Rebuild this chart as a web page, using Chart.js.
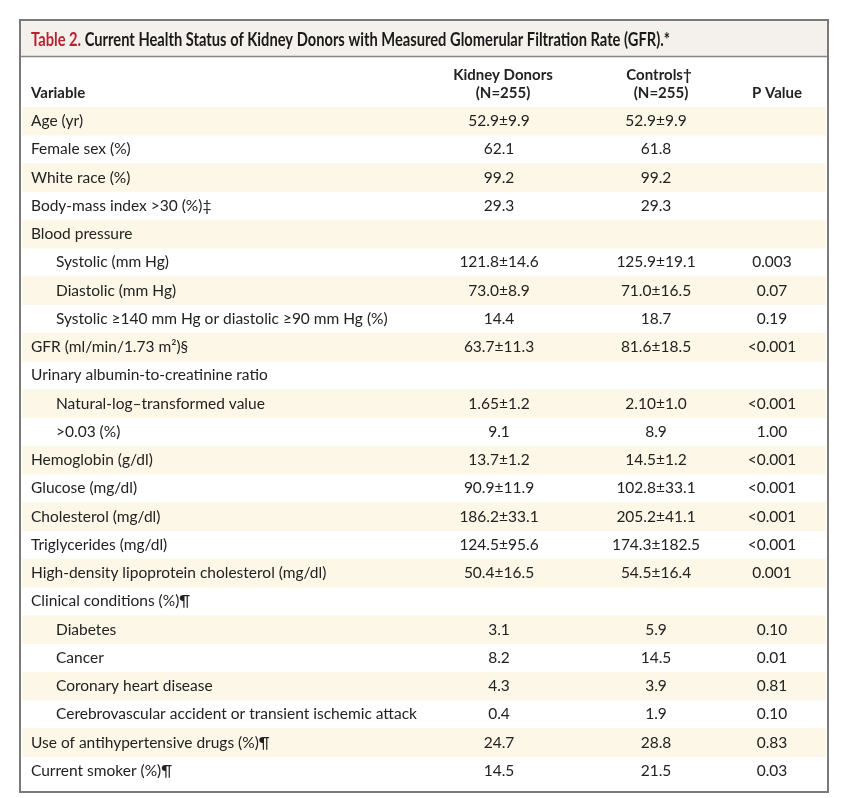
<!DOCTYPE html>
<html>
<head>
<meta charset="utf-8">
<script src="https://cdn.jsdelivr.net/npm/chart.js@4.4.1/dist/chart.umd.min.js"></script>
<style>
  html, body { margin: 0; padding: 0; background: #fff; }
  #wrap { width: 847px; height: 798px; position: relative; }
</style>
</head>
<body>
<div id="wrap"><canvas id="table2"></canvas></div>
<script>
// table content
const titleLead = 'Table 2.'
const titleText = ' Current Health Status of Kidney Donors with Measured Glomerular Filtration Rate (GFR).*'
const columnHeads = ['Kidney Donors', 'Controls\u2020', 'P Value']
const groupSizes = ['(N=255)', '(N=255)']

const variables = [
  'Age (yr)',
  'Female sex (%)',
  'White race (%)',
  'Body-mass index >30 (%)\u2021',
  'Blood pressure',
  'Systolic (mm Hg)',
  'Diastolic (mm Hg)',
  'Systolic \u2265140 mm Hg or diastolic \u226590 mm Hg (%)',
  'GFR (ml/min/1.73 m\u00b2)\u00a7',
  'Urinary albumin-to-creatinine ratio',
  'Natural-log\u2013transformed value',
  '>0.03 (%)',
  'Hemoglobin (g/dl)',
  'Glucose (mg/dl)',
  'Cholesterol (mg/dl)',
  'Triglycerides (mg/dl)',
  'High-density lipoprotein cholesterol (mg/dl)',
  'Clinical conditions (%)\u00b6',
  'Diabetes',
  'Cancer',
  'Coronary heart disease',
  'Cerebrovascular accident or transient ischemic attack',
  'Use of antihypertensive drugs (%)\u00b6',
  'Current smoker (%)\u00b6'
]
const subRow = [0,0,0,0,0,1,1,1,0,0,1,1,0,0,0,0,0,0,1,1,1,1,0,0]
const donors = ['52.9\u00b19.9','62.1','99.2','29.3','','121.8\u00b114.6','73.0\u00b18.9','14.4','63.7\u00b111.3','','1.65\u00b11.2','9.1','13.7\u00b11.2','90.9\u00b111.9','186.2\u00b133.1','124.5\u00b195.6','50.4\u00b116.5','','3.1','8.2','4.3','0.4','24.7','14.5']
const controls = ['52.9\u00b19.9','61.8','99.2','29.3','','125.9\u00b119.1','71.0\u00b116.5','18.7','81.6\u00b118.5','','2.10\u00b11.0','8.9','14.5\u00b11.2','102.8\u00b133.1','205.2\u00b141.1','174.3\u00b1182.5','54.5\u00b116.4','','5.9','14.5','3.9','1.9','28.8','21.5']
const pValues = ['','','','','','0.003','0.07','0.19','<0.001','','<0.001','1.00','<0.001','<0.001','<0.001','<0.001','0.001','','0.10','0.01','0.81','0.10','0.83','0.03']

// x scale runs in page units so the column centres read naturally
const X_MIN = 22, X_MAX = 826
const col = { label: 31, indent: 56, donors: 499, controls: 656, p: 772 }
const ink = '#222'
const bodyFont = '15.5px Lato'

const stripes = variables.map((v, i) => i % 2 === 0 ? [X_MIN, X_MAX] : null)

const tablePlugin = {
  id: 'tablePlugin',
  beforeDraw(chart) {
    const ctx = chart.ctx
    ctx.save()
    ctx.fillStyle = '#fff'
    ctx.fillRect(0, 0, chart.width, chart.height)
    // title band
    ctx.fillStyle = '#f4f0ec'
    ctx.fillRect(20, 20, 808, 36)
    ctx.restore()
  },
  afterDatasetsDraw(chart) {
    const ctx = chart.ctx
    const x = chart.scales.x
    const y = chart.scales.y
    ctx.save()
    ctx.textBaseline = 'middle'

    // title, squeezed to the condensed width of the original
    ctx.font = 'bold 18px Lato'
    const w1 = ctx.measureText(titleLead).width
    const w2 = ctx.measureText(titleText).width
    const sx = 639 / (w1 + w2)
    ctx.save()
    ctx.translate(31, 40)
    ctx.scale(sx, 1)
    ctx.textAlign = 'left'
    ctx.fillStyle = '#b8232f'
    ctx.fillText(titleLead, 0, 0)
    ctx.fillStyle = '#1a1a1a'
    ctx.fillText(titleText, w1, 0)
    ctx.restore()

    // column heads
    ctx.font = 'bold 15px Lato'
    ctx.fillStyle = ink
    ctx.textAlign = 'left'
    ctx.fillText('Variable', 31, 93)
    ctx.textAlign = 'center'
    ctx.fillText(columnHeads[0], 503, 75)
    ctx.fillText(groupSizes[0], 503, 93)
    ctx.fillText(columnHeads[1], 659, 75)
    ctx.fillText(groupSizes[1], 661, 93)
    ctx.fillText(columnHeads[2], 777, 93)

    // body rows
    ctx.font = bodyFont
    variables.forEach((v, i) => {
      const py = y.getPixelForValue(i)
      ctx.textAlign = 'left'
      ctx.fillText(v, subRow[i] ? col.indent : col.label, py)
      ctx.textAlign = 'center'
      ctx.fillText(donors[i], x.getPixelForValue(col.donors), py)
      ctx.fillText(controls[i], x.getPixelForValue(col.controls), py)
      ctx.fillText(pValues[i], x.getPixelForValue(col.p), py)
    })
    ctx.restore()
  },
  afterDraw(chart) {
    const ctx = chart.ctx
    ctx.save()
    ctx.strokeStyle = '#858585'
    ctx.lineWidth = 1.5
    ctx.beginPath()
    ctx.moveTo(20, 56.5)
    ctx.lineTo(828, 56.5)
    ctx.stroke()
    ctx.strokeStyle = '#7a7a7a'
    ctx.lineWidth = 2
    ctx.strokeRect(20, 20, 808, 772)
    ctx.restore()
  }
}

const config = {
  type: 'bar',
  data: {
    labels: variables,
    datasets: [
      {
        label: 'row shading',
        data: stripes,
        backgroundColor: '#fcf7e6',
        borderWidth: 0,
        barPercentage: 1,
        categoryPercentage: 1
      }
    ]
  },
  options: {
    indexAxis: 'y',
    responsive: true,
    maintainAspectRatio: false,
    animation: false,
    layout: {
      padding: { left: X_MIN, right: 847 - X_MAX, top: 107, bottom: 13 }
    },
    scales: {
      x: { type: 'linear', min: X_MIN, max: X_MAX, display: false },
      y: { type: 'category', display: false }
    },
    plugins: {
      legend: { display: false },
      tooltip: { enabled: false },
      title: { display: false }
    }
  },
  plugins: [tablePlugin]
}

new Chart(document.getElementById('table2'), config)
</script>
</body>
</html>
